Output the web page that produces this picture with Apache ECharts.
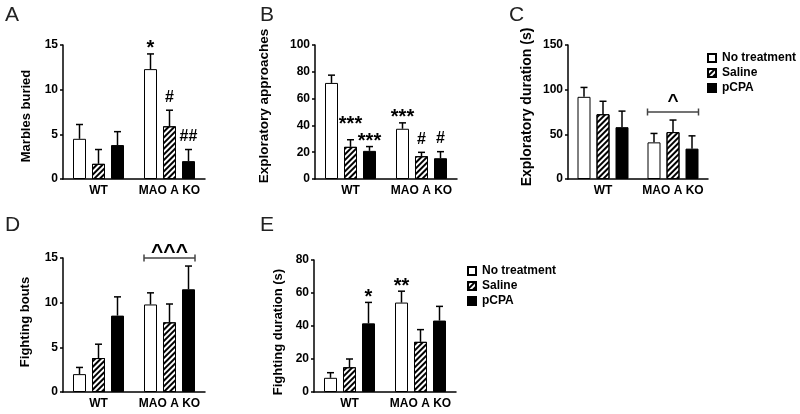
<!DOCTYPE html>
<html>
<head>
<meta charset="utf-8">
<script src="https://cdn.jsdelivr.net/npm/echarts@6/dist/echarts.min.js"></script>
<style>
html,body{margin:0;padding:0;background:#fff;}
#chart{width:800px;height:414px;}
</style>
</head>
<body>
<div id="chart"></div>
<script>
// ---------- DATA ----------
const groups = ['WT', 'MAO A KO'];
const treatments = ['No treatment', 'Saline', 'pCPA'];

// A: Marbles buried
const marblesNT = [4.5, 12.3];
const marblesNTErr = [1.6, 1.7];
const marblesSal = [1.7, 5.9];
const marblesSalErr = [1.6, 1.8];
const marblesPCPA = [3.8, 2.0];
const marblesPCPAErr = [1.5, 1.3];
const marblesSig = [['', '*'], ['', '#'], ['', '##']];

// B: Exploratory approaches
const approachNT = [71.7, 37.5];
const approachNTErr = [5.8, 4.4];
const approachSal = [24.0, 17.0];
const approachSalErr = [5.3, 2.9];
const approachPCPA = [21.0, 15.5];
const approachPCPAErr = [3.2, 4.9];
const approachSig = [['', '***'], ['***', '#'], ['***', '#']];

// C: Exploratory duration (s)
const expDurNT = [92.0, 41.0];
const expDurNTErr = [10.5, 10.0];
const expDurSal = [72.5, 52.5];
const expDurSalErr = [14.5, 13.5];
const expDurPCPA = [58.0, 34.0];
const expDurPCPAErr = [18.0, 14.3];
const expDurSig = [['', ''], ['', ''], ['', '']];
const expDurBracket = [1, 75, '^'];

// D: Fighting bouts
const boutsNT = [2.0, 9.8];
const boutsNTErr = [0.75, 1.3];
const boutsSal = [3.8, 7.8];
const boutsSalErr = [1.55, 2.05];
const boutsPCPA = [8.55, 11.5];
const boutsPCPAErr = [2.1, 2.6];
const boutsSig = [['', ''], ['', ''], ['', '']];
const boutsBracket = [1, 15, '^^^'];

// E: Fighting duration (s)
const fightNT = [8.6, 54.2];
const fightNTErr = [3.1, 6.9];
const fightSal = [15.0, 30.4];
const fightSalErr = [5.0, 7.4];
const fightPCPA = [41.6, 43.3];
const fightPCPAErr = [12.7, 8.6];
const fightSig = [['', '**'], ['', ''], ['*', '']];

// ---------- STYLE / LAYOUT ----------
const FONT = '"Liberation Sans", Arial, Helvetica, sans-serif';
const BAR_W = 13;
const BAR_GAP_PX = 6;
const STEP = BAR_W + BAR_GAP_PX;
const STAR_FS = 20;
const HASH_FS = 16;

const panels = [
  {letter: 'A', lx: 5, ly: 5, grid: {left: 63, top: 45, width: 142, height: 134}, max: 15, interval: 5,
   name: 'Marbles buried', nameGap: 30, nameSize: 13, namePad: [0, 8, 0, 0],
   means: [marblesNT, marblesSal, marblesPCPA], errs: [marblesNTErr, marblesSalErr, marblesPCPAErr], sig: marblesSig},
  {letter: 'B', lx: 260, ly: 5, grid: {left: 315, top: 45, width: 142, height: 134}, max: 100, interval: 20,
   name: 'Exploratory approaches', nameGap: 44, nameSize: 13.5, namePad: [0, 0, 0, 12],
   means: [approachNT, approachSal, approachPCPA], errs: [approachNTErr, approachSalErr, approachPCPAErr], sig: approachSig,
   nudge: {'1-0': -10}},
  {letter: 'C', lx: 509, ly: 5, grid: {left: 568, top: 45, width: 140, height: 134}, max: 150, interval: 50,
   name: 'Exploratory duration (s)', nameGap: 34, nameSize: 14, namePad: [0, 0, 0, 10],
   means: [expDurNT, expDurSal, expDurPCPA], errs: [expDurNTErr, expDurSalErr, expDurPCPAErr], sig: expDurSig,
   bracket: expDurBracket, bracketDy: -4, bracketFs: 19},
  {letter: 'D', lx: 5, ly: 215, grid: {left: 63, top: 258, width: 142, height: 134}, max: 15, interval: 5,
   name: 'Fighting bouts', nameGap: 31, nameSize: 13, namePad: [0, 0, 0, 6],
   means: [boutsNT, boutsSal, boutsPCPA], errs: [boutsNTErr, boutsSalErr, boutsPCPAErr], sig: boutsSig,
   bracket: boutsBracket, bracketDy: 2, bracketFs: 21},
  {letter: 'E', lx: 260, ly: 215, grid: {left: 314, top: 260, width: 142, height: 132}, max: 80, interval: 20,
   name: 'Fighting duration (s)', nameGap: 29, nameSize: 13, namePad: [0, 12, 0, 0],
   means: [fightNT, fightSal, fightPCPA], errs: [fightNTErr, fightSalErr, fightPCPAErr], sig: fightSig}
];

const barItemStyles = [
  {color: '#fff', borderColor: '#000', borderWidth: 1},
  {color: '#fff', borderColor: '#000', borderWidth: 1,
   decal: {symbol: 'rect', symbolSize: 1, dashArrayX: [1, 0], dashArrayY: [2, 2], rotation: -Math.PI / 4, color: '#000'}},
  {color: '#000', borderColor: '#000', borderWidth: 1}
];

const grids = [], xAxes = [], yAxes = [], series = [], graphics = [];

function errRender(sIdx, sigArr, nudge) {
  return function (params, api) {
    const cat = api.value(0);
    const base = api.coord([cat, api.value(1)]);
    const top = api.coord([cat, api.value(2)]);
    const x = base[0] + (sIdx - 1) * STEP;
    const children = [
      {type: 'line', shape: {x1: x, y1: base[1], x2: x, y2: top[1]}, style: {stroke: '#000', lineWidth: 1.5}},
      {type: 'line', shape: {x1: x - 3.5, y1: top[1], x2: x + 3.5, y2: top[1]}, style: {stroke: '#000', lineWidth: 1.5}}
    ];
    const t = sigArr[sIdx][params.dataIndex];
    if (t) {
      const isStar = t.indexOf('*') >= 0;
      const fs = isStar ? STAR_FS : HASH_FS;
      let dy = isStar ? 2 : -7;
      const key = sIdx + '-' + params.dataIndex;
      if (nudge && nudge[key] !== undefined) dy += nudge[key];
      children.push({type: 'text', x: x, y: top[1] + dy - 0.35 * fs,
        style: {text: t, fill: '#000', font: 'bold ' + fs + 'px ' + FONT, align: 'center', verticalAlign: 'middle'}});
    }
    return {type: 'group', children: children};
  };
}

function bracketRender(text, dy, fs) {
  return function (params, api) {
    const cat = api.value(0);
    const p = api.coord([cat, api.value(1)]);
    const x1 = p[0] - STEP - BAR_W / 2, x2 = p[0] + STEP + BAR_W / 2, y = p[1];
    return {type: 'group', children: [
      {type: 'line', shape: {x1: x1, y1: y, x2: x2, y2: y}, style: {stroke: '#444', lineWidth: 1.5}},
      {type: 'line', shape: {x1: x1, y1: y - 3.5, x2: x1, y2: y + 3.5}, style: {stroke: '#444', lineWidth: 1.5}},
      {type: 'line', shape: {x1: x2, y1: y - 3.5, x2: x2, y2: y + 3.5}, style: {stroke: '#444', lineWidth: 1.5}},
      {type: 'text', x: p[0], y: y + dy - 0.35 * fs,
        style: {text: text, fill: '#000', font: 'bold ' + fs + 'px ' + FONT, align: 'center', verticalAlign: 'middle'}}
    ]};
  };
}

panels.forEach(function (pn, gi) {
  grids.push(Object.assign({containLabel: false, outerBoundsMode: 'none'}, pn.grid));
  xAxes.push({
    type: 'category', gridIndex: gi, data: groups, boundaryGap: true,
    axisLine: {lineStyle: {color: '#000', width: 1.5}},
    axisTick: {alignWithLabel: true, length: 4, lineStyle: {color: '#000', width: 1.5}},
    axisLabel: {interval: 0, hideOverlap: false, color: '#000', fontFamily: FONT, fontWeight: 'bold', fontSize: 12, margin: 6},
    splitLine: {show: false}
  });
  yAxes.push({
    type: 'value', gridIndex: gi, min: 0, max: pn.max, interval: pn.interval,
    name: pn.name, nameLocation: 'middle', nameGap: pn.nameGap,
    nameTextStyle: {color: '#000', fontFamily: FONT, fontWeight: 'bold', fontSize: pn.nameSize, padding: pn.namePad},
    axisLine: {show: true, lineStyle: {color: '#000', width: 1.5}},
    axisTick: {show: true, length: 3, lineStyle: {color: '#000', width: 1.5}},
    axisLabel: {color: '#000', fontFamily: FONT, fontWeight: 'bold', fontSize: 12, margin: 5},
    splitLine: {show: false}
  });
  treatments.forEach(function (tn, s) {
    series.push({
      type: 'bar', name: tn, xAxisIndex: gi, yAxisIndex: gi,
      data: pn.means[s], barWidth: BAR_W, barGap: (BAR_GAP_PX / BAR_W * 100) + '%',
      itemStyle: barItemStyles[s], emphasis: {disabled: true}, silent: true, z: 2
    });
  });
  treatments.forEach(function (tn, s) {
    series.push({
      type: 'custom', xAxisIndex: gi, yAxisIndex: gi, z: 5, silent: true,
      renderItem: errRender(s, pn.sig, pn.nudge),
      data: pn.means[s].map(function (m, i) { return [i, m, m + pn.errs[s][i]]; })
    });
  });
  if (pn.bracket) {
    series.push({
      type: 'custom', xAxisIndex: gi, yAxisIndex: gi, z: 5, silent: true,
      renderItem: bracketRender(pn.bracket[2], pn.bracketDy, pn.bracketFs),
      data: [[pn.bracket[0], pn.bracket[1]]]
    });
  }
  graphics.push({type: 'text', left: pn.lx, top: pn.ly,
    style: {text: pn.letter, fill: '#222', font: '21px ' + FONT}});
});

const legendBase = {
  orient: 'vertical', icon: 'rect', itemWidth: 8, itemHeight: 8, itemGap: 1,
  data: treatments, selectedMode: false,
  textStyle: {color: '#000', fontFamily: FONT, fontWeight: 'bold', fontSize: 12, lineHeight: 14, padding: [0, 0, 0, 1]}
};

const option = {
  backgroundColor: '#fff',
  animation: false,
  grid: grids,
  xAxis: xAxes,
  yAxis: yAxes,
  legend: [
    Object.assign({left: 702, top: 46}, legendBase),
    Object.assign({left: 462, top: 259}, legendBase)
  ],
  graphic: graphics,
  series: series
};

const chart = echarts.init(document.getElementById('chart'), null, {renderer: 'canvas'});
chart.setOption(option);
</script>
</body>
</html>
